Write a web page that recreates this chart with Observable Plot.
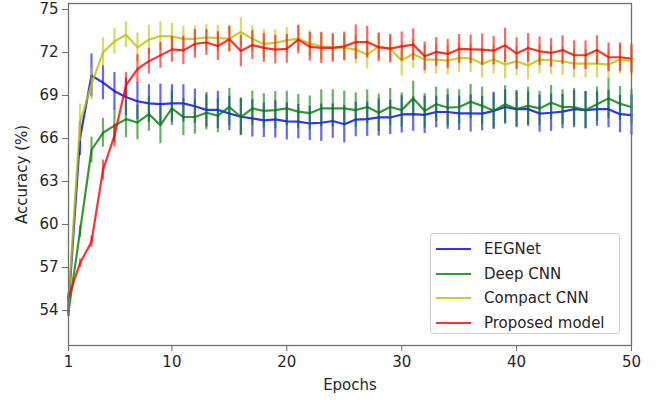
<!DOCTYPE html>
<html>
<head>
<meta charset="utf-8">
<script src="https://cdn.jsdelivr.net/npm/d3@7"></script>
<script src="https://cdn.jsdelivr.net/npm/@observablehq/plot@0.6"></script>
<style>
  body { margin: 0; background: #fff; }
  #wrap { position: relative; width: 663px; height: 400px; font-family: "DejaVu Sans", sans-serif; }
  #legend { position: absolute; left: 430px; top: 233px; width: 190px; height: 101px; border: 1px solid #d0d0d0; border-radius: 3px; background: rgba(255,255,255,0.85); box-sizing: border-box; }
  .row { position: absolute; left: 0; height: 20px; display: flex; align-items: center; font-size: 15px; color: #262626; white-space: nowrap; }
  .sw { display: inline-block; width: 35px; height: 0; border-top: 2.5px solid; margin-left: 5px; margin-right: 13px; }
</style>
</head>
<body>
<div id="wrap"><div id="chart"></div><div id="legend"></div></div>
<script>
const epochs = d3.range(1, 51);
const xTicks = [1, 10, 20, 30, 40, 50];
const yTicks = [54, 57, 60, 63, 66, 69, 72, 75];
const names = ["EEGNet", "Deep CNN", "Compact CNN", "Proposed model"];
const colors = ["#0000ff", "#008000", "#bfbf00", "#ff0000"];

const eegnet = [54.3,66.0,70.4,69.9,69.3,68.9,68.6,68.45,68.4,68.45,68.45,68.25,68.0,68.0,67.75,67.52,67.4,67.27,67.33,67.2,67.18,67.05,67.1,67.22,67.0,67.32,67.35,67.47,67.47,67.68,67.7,67.65,67.85,67.85,67.75,67.75,67.74,67.93,68.2,68.05,68.05,67.74,67.8,67.88,68.05,67.98,68.05,68.05,67.7,67.63];
const deepcnn = [53.9,59.5,65.2,66.4,66.9,67.35,67.12,67.7,66.93,68.1,67.5,67.5,67.8,67.6,68.2,67.5,68.1,67.93,67.98,68.1,67.88,67.77,68.1,68.1,68.1,67.98,68.2,67.8,68.2,67.98,68.8,67.93,68.39,68.16,68.2,68.57,68.28,67.93,68.39,68.05,68.28,68.1,68.5,68.2,68.2,67.98,68.39,68.8,68.43,68.2];
const compact = [54.6,67.1,69.8,72.0,72.78,73.24,72.36,72.9,73.15,73.13,72.95,72.95,73.05,73.0,72.97,73.43,72.95,72.6,72.67,72.85,72.97,72.62,72.43,72.36,72.32,72.2,71.86,72.43,72.27,71.44,71.9,71.51,71.51,71.44,71.62,71.6,71.21,71.51,71.16,71.39,71.09,71.51,71.46,71.39,71.23,71.23,71.23,71.16,71.51,71.39];
const proposed = [54.9,57.3,58.8,63.8,66.2,69.7,70.85,71.4,71.8,72.22,72.15,72.6,72.7,72.45,72.93,72.1,72.52,72.32,72.2,72.25,72.9,72.4,72.32,72.32,72.43,72.73,72.73,72.36,72.27,72.43,72.55,71.74,72.04,71.9,72.25,72.22,72.2,72.13,72.5,71.93,72.32,72.09,71.97,72.17,71.81,71.81,72.17,71.67,71.67,71.58];

const eegnetErr = [0.7,1.2,1.5,1.2,1.3,1.3,1.3,1.3,1.4,1.3,1.3,1.2,1.2,1.3,1.2,1.3,1.3,1.2,1.3,1.3,1.2,1.2,1.3,1.2,1.3,1.2,1.2,1.3,1.2,1.3,1.2,1.3,1.1,1.2,1.2,1.3,1.2,1.3,1.2,1.3,1.2,1.3,1.3,1.2,1.3,1.3,1.2,1.3,1.3,1.4];
const deepcnnErr = [0.3,0.4,0.9,1.0,1.2,1.3,1.2,1.2,1.3,1.2,1.3,1.2,1.2,1.2,1.3,1.3,1.2,1.2,1.3,1.2,1.2,1.2,1.3,1.3,1.2,1.2,1.2,1.3,1.3,1.2,1.2,1.2,1.2,1.3,1.2,1.2,1.3,1.2,1.3,1.2,1.3,1.2,1.2,1.2,1.3,1.3,1.2,1.4,1.2,1.2];
const compactErr = [0.6,1.3,1.1,1.0,0.9,0.9,1.0,1.0,1.0,0.9,0.9,0.9,0.9,0.9,0.9,1.0,0.9,1.0,0.9,0.9,0.9,0.9,0.9,0.9,0.9,1.0,1.0,0.9,0.9,1.1,1.0,1.0,1.0,1.0,1.0,1.0,1.0,1.0,1.0,1.0,1.0,1.0,1.0,1.0,1.0,1.0,1.0,1.0,1.0,1.0];
const proposedErr = [0.3,0.3,0.4,0.7,0.8,0.9,1.0,0.9,0.9,0.9,1.0,1.0,0.9,1.0,0.9,1.1,1.0,1.0,1.0,1.0,1.0,1.0,1.1,1.0,1.0,1.2,1.1,1.0,1.0,1.0,1.1,1.0,1.0,1.0,1.0,1.0,1.1,1.0,1.2,1.1,1.0,1.0,1.0,1.0,1.0,1.0,1.0,1.0,1.0,1.0];

const seriesVals = [eegnet, deepcnn, compact, proposed];
const seriesErr = [eegnetErr, deepcnnErr, compactErr, proposedErr];

const tables = names.map((name, k) => epochs.map((e, i) => ({
  epoch: e, model: name, acc: seriesVals[k][i],
  lo: seriesVals[k][i] - seriesErr[k][i], hi: seriesVals[k][i] + seriesErr[k][i]
})));

const marks = [];
tables.forEach((t, k) => {
  marks.push(Plot.ruleX(t, {x: "epoch", y1: "lo", y2: "hi", stroke: colors[k], strokeWidth: 2.2, strokeOpacity: 0.6}));
  marks.push(Plot.line(t, {x: "epoch", y: "acc", stroke: colors[k], strokeWidth: 2.2, strokeOpacity: 0.8}));
});

const chart = Plot.plot({
  width: 663,
  height: 400,
  marginLeft: 68,
  marginRight: 32,
  marginTop: 3,
  marginBottom: 55,
  style: {fontFamily: "DejaVu Sans, sans-serif", fontSize: "15px", color: "#262626", background: "#fff"},
  x: {domain: [1, 50]},
  y: {domain: [51.56, 75.42]},
  marks: [
    ...marks,
    Plot.frame({stroke: "#707070", strokeWidth: 1.3}),
    Plot.axisX({ticks: xTicks, tickSize: 6, tickPadding: 5, fontSize: 15, stroke: "#707070", label: "Epochs", labelAnchor: "center", labelArrow: "none", labelOffset: 44}),
    Plot.axisY({ticks: yTicks, tickSize: 6, tickPadding: 4, fontSize: 15, stroke: "#707070", label: "Accuracy (%)", labelAnchor: "center", labelArrow: "none", labelOffset: 52})
  ]
});
document.getElementById("chart").appendChild(chart);

const legend = document.getElementById("legend");
names.forEach((n, k) => {
  const row = document.createElement("div");
  row.className = "row";
  row.style.top = (5 + k * 24.6) + "px";
  const sw = document.createElement("span");
  sw.className = "sw";
  sw.style.borderTopColor = colors[k];
  sw.style.opacity = 0.8;
  row.appendChild(sw);
  row.appendChild(document.createTextNode(n));
  legend.appendChild(row);
});
</script>
</body>
</html>
